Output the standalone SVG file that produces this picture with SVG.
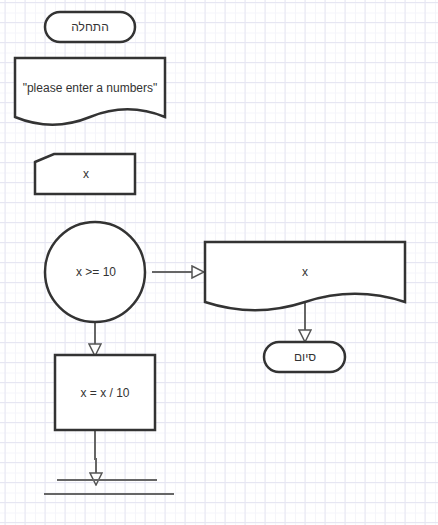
<svg xmlns="http://www.w3.org/2000/svg" width="438" height="525" viewBox="0 0 438 525">
<defs>
<pattern id="minor" width="10" height="10" patternUnits="userSpaceOnUse" x="5" y="2.5">
<path d="M0,0.5 H10 M0.5,0 V10" fill="none" stroke="#f5f5fa" stroke-width="1"/>
</pattern>
<pattern id="major" width="20" height="20" patternUnits="userSpaceOnUse" x="4.5" y="2">
<path d="M0,0.5 H20 M0.5,0 V20" fill="none" stroke="#e6e6f2" stroke-width="1"/>
</pattern>
<marker id="arr" viewBox="0 0 14 14" refX="13" refY="7" markerWidth="14" markerHeight="14" markerUnits="userSpaceOnUse" orient="auto">
<path d="M1,1 L13,7 L1,13 Z" fill="#ffffff" stroke="#555555" stroke-width="1.5"/>
</marker>
<style>
.s{fill:#ffffff;stroke:#333333;stroke-width:2.5}
.t{font-family:"Liberation Sans",Arial,sans-serif;font-size:12px;fill:#333333;text-anchor:middle;dominant-baseline:central}
.c{fill:none;stroke:#666666;stroke-width:2}
</style>
</defs>
<rect width="438" height="525" fill="#ffffff"/>
<rect width="438" height="525" fill="url(#minor)"/>
<rect width="438" height="525" fill="url(#major)"/>
<g id="connectors">
<path class="c" d="M152,272 H204" marker-end="url(#arr)"/>
<path class="c" d="M95,322 V356" marker-end="url(#arr)"/>
<path class="c" d="M305,302 V342" marker-end="url(#arr)"/>
<path class="c" d="M95,431 V459 H96 V485" marker-end="url(#arr)"/>
</g>
<g id="start">
<rect class="s" x="45" y="12" width="90" height="30" rx="15"/>
<text class="t" x="90" y="27">התחלה</text>
</g>
<g id="prompt">
<path class="s" d="M15,58 H165 V117 Q127.5,101.6 90,117 Q52.5,132.4 15,117 Z"/>
<text class="t" x="90" y="88">"please enter a numbers"</text>
</g>
<g id="input">
<path class="s" d="M35,162 L54,154 H135 V194 H35 Z"/>
<text class="t" x="86" y="174">x</text>
</g>
<g id="decision">
<circle class="s" cx="95" cy="272" r="50"/>
<text class="t" x="96" y="272">x &gt;= 10</text>
</g>
<g id="output">
<path class="s" d="M205,242 H405 V302 Q355,285.6 305,302 Q255,318.4 205,302 Z"/>
<text class="t" x="305" y="272">x</text>
</g>
<g id="end">
<rect class="s" x="264" y="342" width="81" height="30" rx="15"/>
<text class="t" x="305" y="357">סיום</text>
</g>
<g id="divide">
<rect class="s" x="55" y="355" width="100" height="75"/>
<text class="t" x="105" y="393">x = x / 10</text>
</g>
<g id="loopend">
<path class="c" d="M57,480 H157 M44,494 H174"/>
</g>
</svg>
